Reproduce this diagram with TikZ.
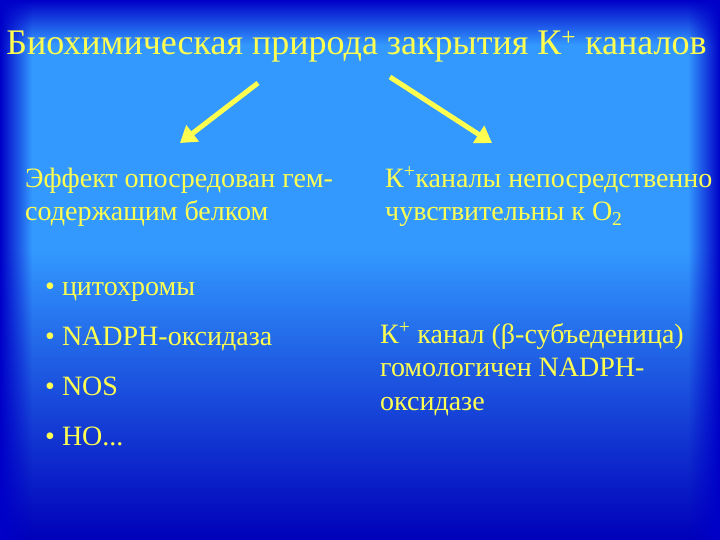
\documentclass[tikz,border=0pt]{standalone}
\usepackage{fontspec}
\setmainfont{Liberation Serif}
\usetikzlibrary{fadings,arrows.meta}
\definecolor{bglight}{RGB}{51,153,255}
\definecolor{bgdark}{RGB}{0,0,200}
\definecolor{bgbottom}{RGB}{0,0,185}
\definecolor{txtyellow}{RGB}{255,255,80}

\begin{document}
\begin{tikzpicture}[x=1pt,y=-1pt,
    txt/.style={text=txtyellow,inner sep=0pt,align=left,
      font=\fontsize{28}{33.6}\selectfont},
    yarrow/.style={draw=txtyellow,line width=5pt,
      -{Triangle[length=16pt,width=20pt]}}]
% background
\fill[bglight] (0,0) rectangle (720,540);
\shade[top color=bgdark,bottom color=bglight] (0,0) rectangle (720,45);
\shade[top color=bglight,bottom color=bgbottom] (0,250) rectangle (720,540);
\fill[bgdark,path fading=east] (0,0) rectangle (32,540);
\fill[bgdark,path fading=west] (688,0) rectangle (720,540);
\useasboundingbox (0,0) rectangle (720,540);
\path
    (356.5,55) node [txt,anchor=base,font=\fontsize{36}{40}\selectfont] (title)
      {Биохимическая природа закрытия К\textsuperscript{+} каналов}
    (25,220.6) node [txt,anchor=base west] (heme)
      {Эффект опосредован гем-\\содержащим белком}
    (385,220.6) node [txt,anchor=base west] (direct)
      {К\textsuperscript{+}каналы непосредственно\\чувствительны к O\textsubscript{2}}
    (45,295) node [txt,anchor=base west] (cyto) {• цитохромы}
    (45,345) node [txt,anchor=base west] (nadph) {• NADPH-оксидаза}
    (45,395) node [txt,anchor=base west] (nos) {• NOS}
    (45,445) node [txt,anchor=base west] (ho) {• HO...}
    (380,410.2) node [txt,anchor=base west] (homolog)
      {К\textsuperscript{+} канал (β-субъеденица)\\гомологичен NADPH-\\оксидазе};
\coordinate (ltail) at (258,83);
\coordinate (ltip) at (180,143);
\coordinate (rtail) at (390,77);
\coordinate (rtip) at (492,143);
\draw [yarrow] (ltail) -- (ltip);
\draw [yarrow] (rtail) -- (rtip);
\end{tikzpicture}
\end{document}
